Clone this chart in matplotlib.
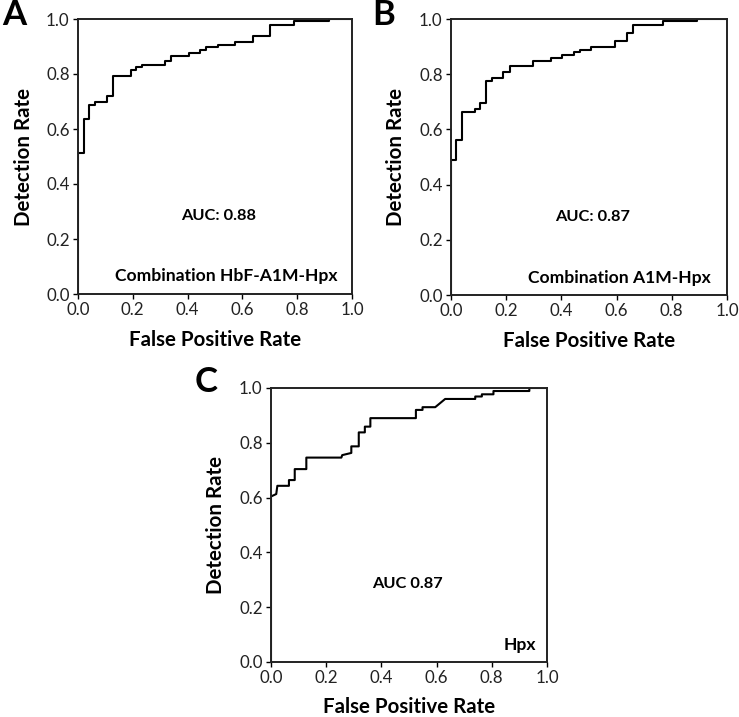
import numpy as np
import matplotlib
matplotlib.use('Agg')
import matplotlib.pyplot as plt

plt.rcParams['font.family'] = ['Lato', 'DejaVu Sans']

# ROC step curves (false positive rate, detection rate)
fpr_a = [0.0, 0.0, 0.021, 0.021, 0.041, 0.041, 0.061, 0.061, 0.106, 0.106, 0.127, 0.127,
         0.192, 0.192, 0.213, 0.213, 0.234, 0.234, 0.319, 0.319, 0.341, 0.341, 0.404, 0.404,
         0.446, 0.446, 0.467, 0.467, 0.51, 0.51, 0.574, 0.574, 0.639, 0.639, 0.702, 0.702,
         0.787, 0.787, 0.917, 0.917, 1.0]
tpr_a = [0.0, 0.512, 0.512, 0.636, 0.636, 0.689, 0.689, 0.698, 0.698, 0.721, 0.721, 0.792,
         0.792, 0.813, 0.813, 0.824, 0.824, 0.832, 0.832, 0.846, 0.846, 0.865, 0.865, 0.876,
         0.876, 0.887, 0.887, 0.897, 0.897, 0.906, 0.906, 0.918, 0.918, 0.937, 0.937, 0.979,
         0.979, 0.992, 0.992, 1.0, 1.0]

fpr_b = [0.0, 0.0, 0.019, 0.019, 0.040, 0.040, 0.086, 0.086, 0.106, 0.106, 0.128, 0.128,
         0.148, 0.148, 0.190, 0.190, 0.212, 0.212, 0.298, 0.298, 0.361, 0.361, 0.402, 0.402,
         0.445, 0.445, 0.467, 0.467, 0.509, 0.509, 0.596, 0.596, 0.638, 0.638, 0.659, 0.659,
         0.768, 0.768, 0.893, 0.893, 1.0]
tpr_b = [0.0, 0.489, 0.489, 0.562, 0.562, 0.663, 0.663, 0.674, 0.674, 0.695, 0.695, 0.776,
         0.776, 0.787, 0.787, 0.807, 0.807, 0.828, 0.828, 0.849, 0.849, 0.858, 0.858, 0.869,
         0.869, 0.880, 0.880, 0.889, 0.889, 0.897, 0.897, 0.919, 0.919, 0.949, 0.949, 0.979,
         0.979, 0.992, 0.992, 1.0, 1.0]

fpr_c = [0.0, 0.0, 0.019, 0.023, 0.065, 0.065, 0.086, 0.086, 0.128, 0.128, 0.255, 0.258,
         0.291, 0.291, 0.318, 0.318, 0.340, 0.340, 0.360, 0.360, 0.525, 0.525, 0.549, 0.549,
         0.595, 0.619, 0.631, 0.740, 0.740, 0.764, 0.764, 0.806, 0.806, 0.936, 0.936, 1.0]
tpr_c = [0.0, 0.604, 0.613, 0.643, 0.643, 0.664, 0.664, 0.704, 0.704, 0.746, 0.746, 0.755,
         0.763, 0.787, 0.787, 0.838, 0.838, 0.859, 0.859, 0.890, 0.890, 0.920, 0.920, 0.930,
         0.930, 0.950, 0.960, 0.960, 0.969, 0.969, 0.977, 0.977, 0.989, 0.989, 1.0, 1.0]

auc_texts = ['AUC: 0.88', 'AUC: 0.87', 'AUC 0.87']
names = ['Combination HbF-A1M-Hpx', 'Combination A1M-Hpx', 'Hpx']
letters = ['A', 'B', 'C']

fig = plt.figure(figsize=(7.39, 7.17), dpi=100)
W, H = 739.0, 717.0
# axes boxes in pixels: left, top, right, bottom
boxes = [(78, 19, 352, 294), (451, 19, 727, 295), (271, 388, 547, 662)]
curves = [(fpr_a, tpr_a), (fpr_b, tpr_b), (fpr_c, tpr_c)]
auc_pos = [(0.512, 0.284), (0.513, 0.283), (0.494, 0.285)]
name_pos = [(0.947, 0.067), (0.941, 0.062), (0.96, 0.063)]
letter_pos = [(14, 15), (383.5, 15), (206.5, 382.5)]

ticks = np.arange(0, 1.01, 0.2)
for i in range(3):
    l, t, r, b = boxes[i]
    ax = fig.add_axes([l / W, 1 - b / H, (r - l) / W, (b - t) / H])
    x, y = curves[i]
    ax.plot(x, y, color='black', lw=1.5)
    ax.set_xlim(0, 1)
    ax.set_ylim(0, 1)
    ax.set_xticks(ticks)
    ax.set_yticks(ticks)
    ax.set_xticklabels(['%.1f' % v for v in ticks])
    ax.set_yticklabels(['%.1f' % v for v in ticks])
    ax.tick_params(direction='out', length=3.5, width=1.0, labelsize=12.2, pad=2.5,
                   colors='black', labelcolor='#222222')
    for s in ax.spines.values():
        s.set_linewidth(1.4)
        s.set_color('#222222')
    ax.set_xlabel('False Positive Rate', fontsize=14.8, fontweight='bold', va='center')
    ax.set_ylabel('Detection Rate', fontsize=14.8, fontweight='bold', va='center')
    ax.xaxis.set_label_coords(0.5, -0.166)
    ax.yaxis.set_label_coords(-0.198, 0.5)
    ax.text(auc_pos[i][0], auc_pos[i][1], auc_texts[i], transform=ax.transAxes,
            ha='center', va='center', fontsize=11.8, fontweight='bold')
    ax.text(name_pos[i][0], name_pos[i][1], names[i], transform=ax.transAxes,
            ha='right', va='center', fontsize=12.6, fontweight='bold')
    fig.text(letter_pos[i][0] / W, 1 - letter_pos[i][1] / H, letters[i],
             ha='center', va='center', fontsize=25, fontweight='bold')

plt.savefig('out.png', dpi=100)
